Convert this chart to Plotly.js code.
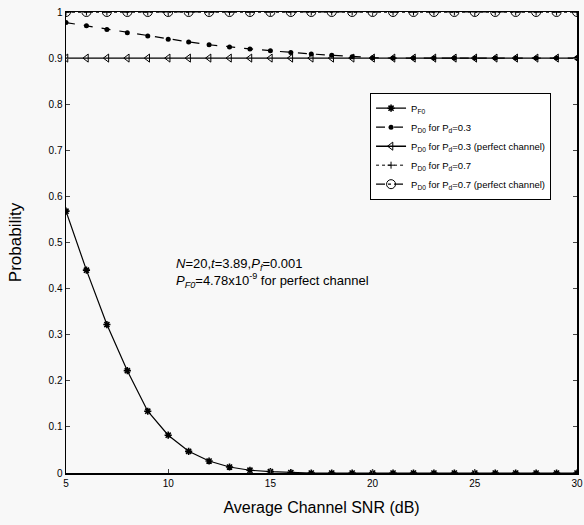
<!DOCTYPE html>
<html>
<head>
<meta charset="utf-8">
<script src="https://cdn.plot.ly/plotly-3.0.1.min.js"></script>
<style>body{margin:0;padding:0;background:#f8f8f8;} #chart{width:584px;height:525px;}</style>
</head>
<body>
<div id="chart"></div>
<script>
const snr = [5,6,7,8,9,10,11,12,13,14,15,16,17,18,19,20,21,22,23,24,25,26,27,28,29,30];
const pF0 = [0.568,0.440,0.322,0.222,0.134,0.082,0.047,0.026,0.013,0.006,0.003,0.001,0,0,0,0,0,0,0,0,0,0,0,0,0,0];
const pD03 = [0.977,0.970,0.962,0.955,0.948,0.941,0.935,0.929,0.924,0.920,0.916,0.912,0.909,0.906,0.903,0.901,0.900,0.900,0.900,0.900,0.900,0.900,0.900,0.900,0.900,0.900];
const pD03perfect = [0.9,0.9,0.9,0.9,0.9,0.9,0.9,0.9,0.9,0.9,0.9,0.9,0.9,0.9,0.9,0.9,0.9,0.9,0.9,0.9,0.9,0.9,0.9,0.9,0.9,0.9];
const pD07 = [1,1,1,1,1,1,1,1,1,1,1,1,1,1,1,1,1,1,1,1,1,1,1,1,1,1];
const pD07perfect = [1,1,1,1,1,1,1,1,1,1,1,1,1,1,1,1,1,1,1,1,1,1,1,1,1,1];
const names = ["P<sub>F0</sub>","P<sub>D0</sub> for P<sub>d</sub>=0.3","P<sub>D0</sub> for P<sub>d</sub>=0.3 (perfect channel)","P<sub>D0</sub> for P<sub>d</sub>=0.7","P<sub>D0</sub> for P<sub>d</sub>=0.7 (perfect channel)"];
const xTicks = [5,10,15,20,25,30];
const yTicks = [0,0.1,0.2,0.3,0.4,0.5,0.6,0.7,0.8,0.9,1];
const yTickText = ["0","0.1","0.2","0.3","0.4","0.5","0.6","0.7","0.8","0.9","1"];

const traces = [
  {x:snr,y:pF0,name:names[0],mode:'lines+markers',line:{color:'#000',width:1.2},marker:{symbol:'asterisk-open',size:6,color:'#000',line:{width:1.6,color:'#000'}}},
  {x:snr,y:pD03,name:names[1],mode:'lines+markers',line:{color:'#000',width:1.2,dash:'dash'},marker:{symbol:'circle',size:5,color:'#000'}},
  {x:snr,y:pD03perfect,name:names[2],mode:'lines+markers',line:{color:'#000',width:1.4},marker:{symbol:'triangle-left-open',size:7,color:'#000',line:{width:1,color:'#000'}}},
  {x:snr,y:pD07,name:names[3],mode:'lines+markers',line:{color:'#000',width:1,dash:'dot'},marker:{symbol:'cross-thin-open',size:5,color:'#000',line:{width:1,color:'#000'}}},
  {x:snr,y:pD07perfect,name:names[4],mode:'lines+markers',line:{color:'#000',width:1.2,dash:'dashdot'},marker:{symbol:'circle-open',size:9,color:'#000',line:{width:1,color:'#000'}}}
];

const layout = {
  width:584,height:525,
  paper_bgcolor:'#f8f8f8',plot_bgcolor:'#f8f8f8',
  margin:{l:66,r:7,t:12,b:52},
  font:{family:'Liberation Sans, Arial, sans-serif',color:'#000'},
  showlegend:true,
  legend:{x:0.595,y:0.825,xanchor:'left',yanchor:'top',bgcolor:'#ffffff',bordercolor:'#000',borderwidth:1,font:{size:9.5,family:'Liberation Sans, Arial'},tracegroupgap:0,itemwidth:30},
  xaxis:{range:[5,30],tickvals:xTicks,ticktext:xTicks.map(String),ticks:'inside',ticklen:4,showline:true,linecolor:'#000',linewidth:1.5,mirror:'ticks',showgrid:false,zeroline:false,
    ticklabeloverflow:'allow',
    tickfont:{size:10,family:'Liberation Sans, Arial'},
    title:{text:'Average Channel SNR (dB)',font:{size:16,family:'Liberation Sans, Arial'},standoff:14}},
  yaxis:{range:[0,1],tickvals:yTicks,ticktext:yTickText,ticks:'inside',ticklen:4,showline:true,linecolor:'#000',linewidth:1.5,mirror:'ticks',showgrid:false,zeroline:false,
    tickfont:{size:10,family:'Liberation Sans, Arial'},
    title:{text:'Probability',font:{size:17,family:'Liberation Sans, Arial'},standoff:22}},
  annotations:[{
    x:10.3,y:0.475,xref:'x',yref:'y',xanchor:'left',yanchor:'top',align:'left',showarrow:false,
    text:'<i>N</i>=20,<i>t</i>=3.89,<i>P<sub>f</sub></i>=0.001<br><i>P<sub>F0</sub></i>=4.78x10<sup>-9</sup> for perfect channel',
    font:{size:13,family:'Liberation Sans, Arial',color:'#000'}
  }]
};
Plotly.newPlot('chart',traces,layout,{displayModeBar:false,staticPlot:true});
</script>
</body>
</html>
